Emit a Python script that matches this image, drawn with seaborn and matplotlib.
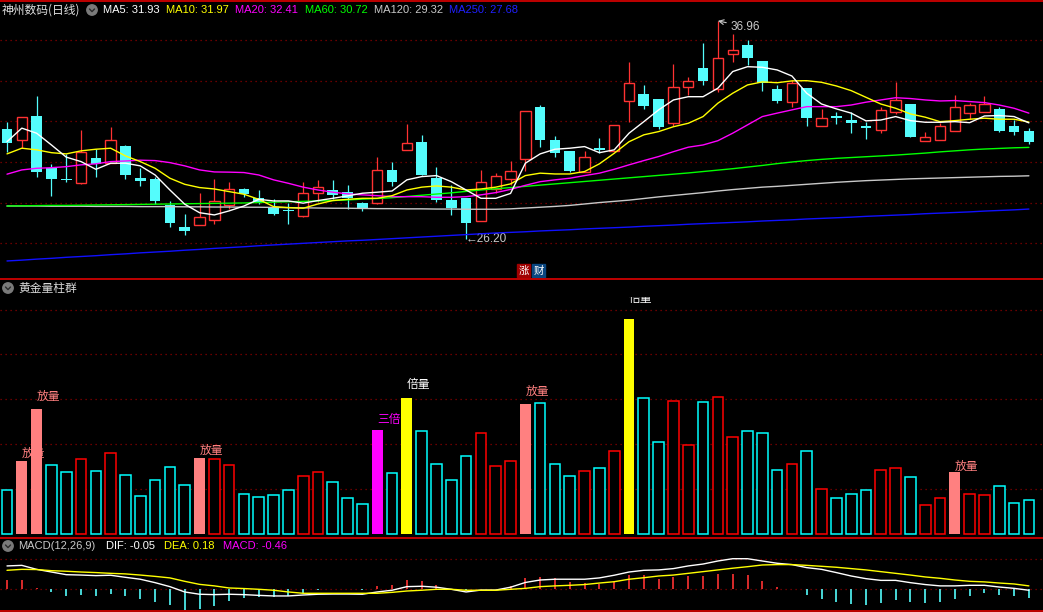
import numpy as np
import pandas as pd
import seaborn as sns
import matplotlib
matplotlib.use('Agg')
import matplotlib.pyplot as plt
from matplotlib.patches import Circle, Rectangle

# ---------------- data ----------------
opens = [31.63, 31.10, 32.27, 29.72, 29.18, 28.98, 30.20, 29.97, 30.79, 29.21,
         29.17, 27.90, 26.80, 26.88, 27.13, 27.88, 28.66, 28.23, 27.80, 27.64,
         27.36, 28.49, 28.61, 28.51, 27.97, 27.97, 29.59, 30.61, 30.99, 29.23,
         28.13, 28.23, 27.11, 28.66, 29.18, 30.14, 32.72, 31.09, 30.55, 29.53,
         30.69, 30.55, 33.01, 33.36, 33.11, 31.91, 33.72, 34.64, 33.59, 35.31,
         35.77, 34.97, 33.60, 32.98, 33.64, 31.79, 32.27, 32.07, 31.78, 31.60,
         32.45, 32.86, 31.05, 31.07, 31.55, 32.44, 32.48, 32.62, 31.78, 31.53]
highs = [31.98, 32.21, 33.26, 29.91, 30.40, 31.58, 30.63, 31.73, 30.84, 29.71,
         29.26, 28.08, 27.44, 28.48, 29.17, 29.02, 28.74, 28.62, 28.19, 28.00,
         29.00, 29.12, 29.12, 28.86, 28.03, 30.24, 30.00, 31.88, 31.34, 29.74,
         28.86, 28.23, 29.61, 29.45, 30.05, 32.50, 32.81, 31.29, 30.55, 30.55,
         31.19, 31.81, 34.94, 33.80, 33.11, 34.84, 34.18, 35.86, 36.96, 36.30,
         36.00, 35.00, 33.80, 34.05, 33.64, 32.62, 32.45, 32.48, 31.96, 32.70,
         33.95, 32.86, 31.48, 31.91, 33.31, 32.90, 33.26, 32.73, 32.08, 31.67]
lows = [30.51, 30.68, 29.28, 28.34, 29.03, 28.93, 29.28, 29.97, 29.18, 28.82,
        27.93, 26.81, 26.40, 26.88, 26.96, 27.70, 28.26, 27.95, 27.40, 26.95,
        27.31, 28.05, 28.19, 27.70, 27.59, 27.93, 28.84, 30.61, 29.36, 28.05,
        27.41, 26.20, 27.11, 28.46, 28.86, 29.55, 30.73, 30.27, 29.50, 29.53,
        30.43, 30.55, 31.96, 32.60, 31.65, 31.79, 33.29, 33.82, 33.47, 34.95,
        34.79, 33.52, 32.90, 32.73, 31.79, 31.79, 31.86, 31.45, 31.15, 31.45,
        32.37, 31.25, 31.05, 31.07, 31.55, 32.11, 32.48, 31.48, 31.35, 30.91]
closes = [30.96, 32.21, 29.53, 29.18, 29.12, 30.51, 29.91, 31.07, 29.36, 29.08,
          28.10, 27.01, 26.62, 27.29, 28.07, 28.66, 28.44, 28.00, 27.44, 27.60,
          28.46, 28.76, 28.39, 28.23, 27.75, 29.59, 29.03, 30.93, 29.36, 28.13,
          27.75, 27.01, 29.00, 29.30, 29.55, 32.50, 31.10, 30.46, 29.55, 30.25,
          30.58, 31.81, 33.88, 32.78, 31.74, 33.69, 33.98, 34.01, 35.12, 35.51,
          35.15, 33.90, 33.03, 33.88, 32.19, 32.16, 32.19, 31.91, 31.70, 32.55,
          33.06, 31.25, 31.22, 31.76, 32.70, 32.80, 32.85, 31.53, 31.50, 31.00]

ma5 = [31.00, 31.67, 31.42, 30.84, 30.24, 30.02, 29.64, 29.94, 29.94, 29.81,
       29.36, 28.62, 27.92, 27.50, 27.39, 27.59, 27.83, 28.16, 28.08, 28.08,
       27.97, 28.10, 28.21, 28.33, 28.46, 28.51, 28.57, 29.12, 29.28, 29.33,
       29.03, 28.62, 28.21, 28.21, 28.45, 29.94, 30.40, 30.63, 30.68, 30.76,
       30.46, 30.60, 31.42, 31.99, 32.57, 33.06, 33.22, 33.22, 33.64, 34.46,
       34.70, 34.67, 34.54, 34.24, 33.39, 32.86, 32.62, 32.41, 32.03, 32.07,
       32.24, 32.04, 31.96, 31.96, 31.99, 31.94, 32.27, 32.29, 32.24, 31.93]
ma10 = [30.40, 30.68, 30.60, 30.46, 30.40, 30.55, 30.63, 30.68, 30.30, 30.02,
        29.69, 29.20, 28.90, 28.74, 28.67, 28.54, 28.41, 28.16, 27.80, 27.75,
        27.72, 27.93, 28.10, 28.16, 28.21, 28.21, 28.34, 28.62, 28.76, 28.82,
        28.76, 28.62, 28.67, 28.76, 28.92, 29.33, 29.45, 29.41, 29.41, 29.53,
        29.91, 30.43, 31.00, 31.34, 31.50, 31.74, 31.91, 32.24, 32.90, 33.39,
        33.80, 33.95, 33.91, 34.00, 34.01, 33.93, 33.75, 33.52, 33.19, 32.86,
        32.65, 32.37, 32.21, 31.99, 32.04, 32.11, 32.16, 32.11, 32.11, 31.97]
ma20 = [29.40, 29.61, 29.69, 29.72, 29.77, 29.86, 29.91, 30.02, 30.05, 30.09,
        30.07, 29.97, 29.81, 29.61, 29.51, 29.50, 29.48, 29.36, 29.12, 28.95,
        28.76, 28.62, 28.51, 28.43, 28.38, 28.34, 28.29, 28.29, 28.29, 28.26,
        28.26, 28.29, 28.38, 28.49, 28.65, 28.85, 29.03, 29.12, 29.20, 29.33,
        29.45, 29.64, 29.86, 30.07, 30.27, 30.51, 30.73, 30.84, 31.05, 31.42,
        31.83, 32.24, 32.41, 32.57, 32.73, 32.73, 32.73, 32.81, 32.95, 33.06,
        33.17, 33.13, 33.06, 33.01, 33.03, 32.98, 32.93, 32.81, 32.65, 32.41]
ma60 = [27.83, 27.84, 27.85, 27.86, 27.86, 27.87, 27.88, 27.89, 27.90, 27.91,
        27.92, 27.93, 27.94, 27.95, 27.96, 27.97, 27.98, 28.00, 28.02, 28.04,
        28.06, 28.08, 28.10, 28.13, 28.17, 28.20, 28.24, 28.30, 28.36, 28.42,
        28.48, 28.55, 28.62, 28.68, 28.74, 28.80, 28.86, 28.92, 28.98, 29.04,
        29.10, 29.16, 29.22, 29.28, 29.34, 29.40, 29.46, 29.53, 29.60, 29.67,
        29.75, 29.83, 29.92, 30.00, 30.07, 30.13, 30.18, 30.22, 30.26, 30.30,
        30.34, 30.39, 30.44, 30.50, 30.55, 30.60, 30.64, 30.67, 30.70, 30.72]
ma120 = [27.83, 27.83, 27.83, 27.82, 27.82, 27.82, 27.81, 27.81, 27.81, 27.80,
         27.80, 27.80, 27.79, 27.79, 27.78, 27.78, 27.77, 27.77, 27.76, 27.75,
         27.74, 27.73, 27.72, 27.72, 27.71, 27.70, 27.70, 27.69, 27.69, 27.68,
         27.68, 27.67, 27.67, 27.67, 27.69, 27.73, 27.77, 27.81, 27.86, 27.93,
         28.00, 28.06, 28.12, 28.20, 28.28, 28.35, 28.42, 28.49, 28.57, 28.64,
         28.70, 28.76, 28.80, 28.85, 28.90, 28.95, 29.00, 29.04, 29.08, 29.11,
         29.14, 29.17, 29.19, 29.21, 29.23, 29.25, 29.27, 29.29, 29.30, 29.32]
ma250 = [25.12, 25.16, 25.21, 25.25, 25.30, 25.34, 25.38, 25.43, 25.47, 25.52,
         25.56, 25.60, 25.65, 25.69, 25.74, 25.78, 25.82, 25.87, 25.91, 25.95,
         25.99, 26.03, 26.07, 26.11, 26.14, 26.18, 26.22, 26.26, 26.30, 26.34,
         26.38, 26.42, 26.46, 26.50, 26.53, 26.56, 26.60, 26.63, 26.66, 26.70,
         26.73, 26.76, 26.79, 26.83, 26.86, 26.89, 26.93, 26.96, 26.99, 27.02,
         27.05, 27.09, 27.12, 27.15, 27.19, 27.22, 27.25, 27.28, 27.32, 27.35,
         27.38, 27.41, 27.45, 27.48, 27.51, 27.54, 27.58, 27.61, 27.64, 27.68]

volume = [0.97, 1.63, 2.78, 1.53, 1.37, 1.66, 1.40, 1.80, 1.31, 0.84,
          1.20, 1.49, 1.08, 1.69, 1.66, 1.53, 0.88, 0.82, 0.86, 0.97,
          1.29, 1.37, 1.15, 0.80, 0.66, 2.32, 1.35, 3.03, 2.29, 1.55,
          1.20, 1.73, 2.24, 1.51, 1.62, 2.90, 2.91, 1.55, 1.29, 1.40,
          1.46, 1.84, 4.79, 3.04, 2.04, 2.96, 1.98, 2.93, 3.06, 2.17,
          2.29, 2.24, 1.43, 1.55, 1.84, 1.01, 0.81, 0.88, 0.97, 1.43,
          1.48, 1.26, 0.65, 0.81, 1.37, 0.88, 0.86, 1.06, 0.68, 0.75]
vol_tags = {1: '放量', 2: '放量', 13: '放量', 25: '三倍', 27: '倍量',
            35: '放量', 42: '倍量', 64: '放量'}

dif = [1.23, 1.26, 1.05, 0.91, 0.77, 0.75, 0.72, 0.74, 0.63, 0.53,
       0.35, 0.14, -0.14, -0.26, -0.28, -0.26, -0.28, -0.32, -0.35, -0.35,
       -0.30, -0.26, -0.25, -0.25, -0.26, -0.14, -0.05, 0.14, 0.16, 0.11,
       0.00, -0.14, -0.04, -0.04, 0.11, 0.36, 0.49, 0.53, 0.53, 0.53,
       0.60, 0.74, 0.91, 1.00, 1.02, 1.09, 1.23, 1.33, 1.49, 1.61,
       1.61, 1.49, 1.37, 1.30, 1.14, 1.05, 0.88, 0.70, 0.56, 0.47,
       0.47, 0.35, 0.25, 0.18, 0.18, 0.21, 0.21, 0.12, 0.05, -0.05]
dea = [1.00, 1.05, 1.04, 0.98, 0.95, 0.91, 0.88, 0.84, 0.81, 0.75,
       0.68, 0.60, 0.42, 0.26, 0.18, 0.07, 0.04, 0.00, -0.05, -0.14,
       -0.21, -0.21, -0.21, -0.21, -0.21, -0.21, -0.16, -0.09, -0.05, 0.00,
       0.00, -0.05, -0.05, -0.05, 0.00, 0.05, 0.14, 0.18, 0.21, 0.25,
       0.33, 0.40, 0.53, 0.61, 0.70, 0.75, 0.84, 0.93, 1.02, 1.11,
       1.19, 1.28, 1.30, 1.30, 1.26, 1.21, 1.16, 1.09, 1.02, 0.93,
       0.84, 0.75, 0.65, 0.58, 0.49, 0.42, 0.39, 0.33, 0.28, 0.18]
macd = [0.47, 0.51, 0.09, -0.12, -0.35, -0.30, -0.35, -0.23, -0.35, -0.49,
        -0.67, -0.84, -1.07, -1.02, -0.89, -0.61, -0.44, -0.39, -0.39, -0.35,
        -0.18, -0.02, 0.00, 0.01, -0.02, 0.18, 0.23, 0.49, 0.44, 0.23,
        0.00, -0.02, 0.01, 0.01, 0.18, 0.58, 0.65, 0.60, 0.39, 0.32,
        0.26, 0.39, 0.75, 0.75, 0.56, 0.65, 0.70, 0.70, 0.81, 0.81,
        0.74, 0.44, 0.12, 0.00, -0.30, -0.49, -0.65, -0.75, -0.81, -0.70,
        -0.54, -0.65, -0.70, -0.65, -0.49, -0.35, -0.18, -0.30, -0.35, -0.46]

price_grid = [26, 28, 30, 32, 34, 36]
vol_grid = [1, 2, 3, 4, 5]
macd_grid = [0, 1.58]

# ---------------- style ----------------
sns.set_theme(style='dark', rc={'figure.facecolor': 'black', 'axes.facecolor': 'black'})
plt.rcParams['font.family'] = ['Noto Sans CJK SC', 'DejaVu Sans']

RED, CYAN = '#FF3232', '#54FCFC'
VRED, VCYAN = '#FF0000', '#00FFFF'
GRID = '#8B0000'
SEP = '#C00000'
NUMFONT = ['Liberation Sans', 'DejaVu Sans']

W, H = 1043, 612
fig = plt.figure(figsize=(W / 100, H / 100), dpi=100, facecolor='black')


def panel(top, bottom):
    return fig.add_axes([0, 1 - bottom / H, 1, (bottom - top) / H])


ax_k = panel(2, 278)
ax_v = panel(297, 538)
ax_m = panel(538, 611)
n = len(closes)
idx = np.arange(n)
xlim = (-7 / 14.81, (W - 7) / 14.81)
for ax in (ax_k, ax_v, ax_m):
    ax.set_xlim(*xlim)
    ax.set_axis_off()
ax_k.set_ylim(24.28, 37.89)
ax_v.set_ylim(-0.09, 5.28)
ax_m.set_ylim(-1.142, 2.70)

dots = (0, (1, 3))
for g in price_grid:
    ax_k.axhline(g, color=GRID, lw=0.9, ls=dots, zorder=0)
for g in vol_grid:
    ax_v.axhline(g, color=GRID, lw=0.9, ls=dots, zorder=0)
for g in macd_grid:
    ax_m.axhline(g, color=GRID, lw=0.9, ls=dots, zorder=0)

# ---------------- candles ----------------
o, h, l, c = map(np.array, (opens, highs, lows, closes))
up = c >= o
dn = ~up
ax_k.vlines(idx[up], l[up], o[up], color=RED, lw=0.9, zorder=2)
ax_k.vlines(idx[up], c[up], h[up], color=RED, lw=0.9, zorder=2)
ax_k.bar(idx[up], np.maximum(c - o, 0.04)[up], bottom=o[up], width=0.7,
         facecolor='black', edgecolor=RED, lw=1.0, zorder=3)
ax_k.vlines(idx[dn], l[dn], h[dn], color=CYAN, lw=0.9, zorder=2)
ax_k.bar(idx[dn], np.maximum(o - c, 0.05)[dn], bottom=c[dn], width=0.72,
         color=CYAN, lw=0, zorder=3)

ma_names = ['MA250', 'MA120', 'MA60', 'MA20', 'MA10', 'MA5']
ma_vals = [ma250, ma120, ma60, ma20, ma10, ma5]
ma_colors = {'MA5': '#FFFFFF', 'MA10': '#FFFF00', 'MA20': '#FF00FF',
             'MA60': '#00FF00', 'MA120': '#C8C8C8', 'MA250': '#1010FF'}
ma_df = pd.concat([pd.DataFrame({'idx': idx, 'price': v, 'line': nm})
                   for nm, v in zip(ma_names, ma_vals)])
sns.lineplot(data=ma_df, x='idx', y='price', hue='line', hue_order=ma_names,
             palette=ma_colors, estimator=None, sort=False, legend=False,
             linewidth=1.0, ax=ax_k, zorder=4)
ax_k.set_axis_off()

txt_grey = '#C8C8C8'
i_hi = int(np.argmax(h))
i_lo = int(np.argmin(l))
ax_k.annotate(f'{h[i_hi]:.2f}', xy=(i_hi, h[i_hi]), xytext=(13, -6),
              textcoords='offset pixels', color=txt_grey, fontsize=8.5,
              family=NUMFONT, va='center', ha='left',
              arrowprops=dict(arrowstyle='->', color=txt_grey, lw=0.8,
                              shrinkA=1, shrinkB=0))
ax_k.text(i_lo - 0.05, l[i_lo], '\u2190' + f'{l[i_lo]:.2f}', color=txt_grey,
          fontsize=8.5, family=NUMFONT, va='center', ha='left')

# ---------------- volume ----------------
vol = np.array(volume)
tag_style = {'放量': '#FF8080', '三倍': '#FF00FF', '倍量': '#FFFF00'}
tag_text = {'放量': '#FF8080', '三倍': '#FF00FF', '倍量': '#FFFFFF'}
plain = np.array([i not in vol_tags for i in idx])
ax_v.bar(idx[plain & up], vol[plain & up], width=0.72, facecolor='black',
         edgecolor=VRED, lw=1.1, zorder=2)
ax_v.bar(idx[plain & dn], vol[plain & dn], width=0.72, facecolor='black',
         edgecolor=VCYAN, lw=1.1, zorder=2)
for i, tag in vol_tags.items():
    ax_v.bar(i, vol[i], width=0.74, color=tag_style[tag], lw=0, zorder=2)
    t = ax_v.text(i, vol[i] * 1.093 - 0.06, tag, color=tag_text[tag], fontsize=8.5,
                  ha='left', va='baseline', zorder=5)
    t.set_clip_path(ax_v.patch)
    t.set_clip_on(True)

# ---------------- MACD ----------------
m = np.array(macd)
ax_m.vlines(idx, 0, m, colors=np.where(m >= 0, RED, CYAN), lw=1.2, zorder=2)
md = pd.concat([pd.DataFrame({'idx': idx, 'v': dif, 'line': 'DIF'}),
                pd.DataFrame({'idx': idx, 'v': dea, 'line': 'DEA'})])
sns.lineplot(data=md, x='idx', y='v', hue='line', hue_order=['DIF', 'DEA'],
             palette={'DIF': '#FFFFFF', 'DEA': '#FFFF00'}, estimator=None,
             sort=False, legend=False, linewidth=1.0, ax=ax_m, zorder=3)
ax_m.set_axis_off()

# ---------------- overlay: separators, titles, legends ----------------
ov = fig.add_axes([0, 0, 1, 1], zorder=10)
ov.set_xlim(0, W)
ov.set_ylim(H, 0)
ov.set_axis_off()
for yy in (1, 278.5, 538, 611):
    ov.plot([0, W], [yy, yy], color=SEP, lw=1.4)


def icon(x, y):
    ov.add_patch(Circle((x, y), 5.2, color='#7A7A7A'))
    ov.plot([x - 2.5, x, x + 2.5], [y - 1, y + 1.6, y - 1], color='#2A2A2A', lw=1.0)


def label_row(y, items):
    for x, s, col in items:
        ov.text(x, y, s, color=col, fontsize=8, va='center', ha='left',
                family=['Liberation Sans', 'Noto Sans CJK SC', 'DejaVu Sans'])


ov.text(2, 10, '神州数码(日线)', color='#E0E0E0', fontsize=8.5, va='center', ha='left')
icon(92, 10)
label_row(10, [(103, f'MA5: {ma5[-1]:.2f}', ma_colors['MA5']),
               (166, f'MA10: {ma10[-1]:.2f}', ma_colors['MA10']),
               (235, f'MA20: {ma20[-1]:.2f}', ma_colors['MA20']),
               (305, f'MA60: {ma60[-1]:.2f}', ma_colors['MA60']),
               (374, f'MA120: {ma120[-1]:.2f}', ma_colors['MA120']),
               (449, f'MA250: {ma250[-1]:.2f}', '#2020FF')])

icon(8, 288)
ov.text(18, 288, '黄金量柱群', color='#D8D8D8', fontsize=8.5, va='center', ha='left')

icon(8, 546)
label_row(546, [(18, 'MACD(12,26,9)', '#C8C8C8'),
                (106, f'DIF: {dif[-1]:.2f}', '#FFFFFF'),
                (164, f'DEA: {dea[-1]:.2f}', '#FFFF00'),
                (223, f'MACD: {macd[-1]:.2f}', '#FF00FF')])

for x0, ch, bg in ((517, '涨', '#A00000'), (532, '财', '#0A4680')):
    ov.add_patch(Rectangle((x0, 264), 13, 13, color=bg))
    ov.text(x0 + 6.5, 270.5, ch, color='white', fontsize=7.5, ha='center', va='center')

fig.savefig('out.png', dpi=100, facecolor='black')
